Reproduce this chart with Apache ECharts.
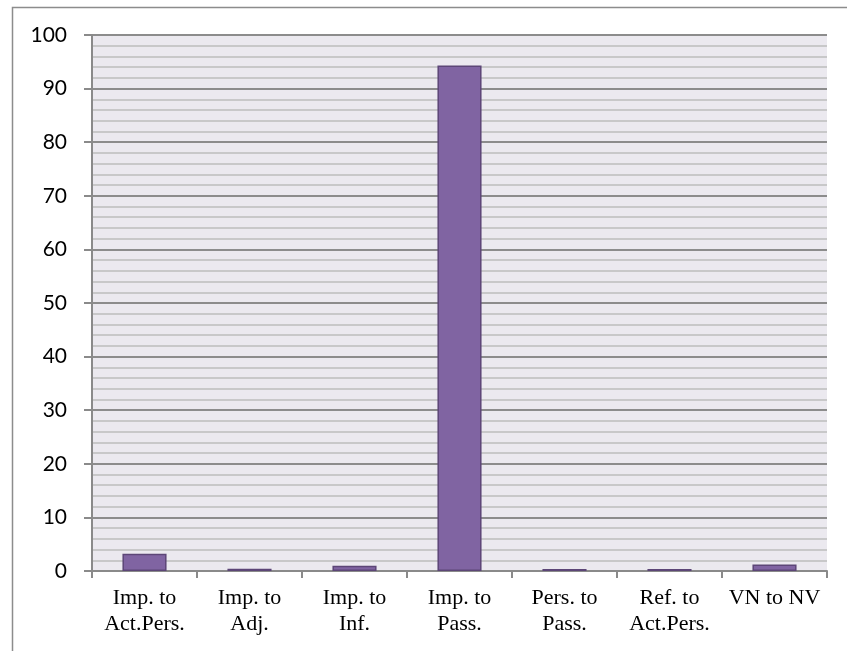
<!DOCTYPE html>
<html>
<head>
<meta charset="utf-8">
<style>
  html, body { margin: 0; padding: 0; background: #ffffff; }
  #chart { width: 847px; height: 651px; }
</style>
<script src="https://cdn.jsdelivr.net/npm/echarts@6/dist/echarts.min.js"></script>
</head>
<body>
<div id="chart"></div>
<script>
// Transformation categories (two-line labels)
const categories = [
  'Imp. to\nAct.Pers.',
  'Imp. to\nAdj.',
  'Imp. to\nInf.',
  'Imp. to\nPass.',
  'Pers. to\nPass.',
  'Ref. to\nAct.Pers.',
  'VN to NV'
];

// Percentage for each category
const values = [3.2, 0.4, 1.0, 94.3, 0.35, 0.35, 1.2];

// Y axis range and step
const yMin = 0;
const yMax = 100;
const yStep = 10;

const chart = echarts.init(document.getElementById('chart'), null, { renderer: 'canvas' });

chart.setOption({
  animation: false,
  backgroundColor: '#ffffff',
  graphic: [{
    type: 'rect',
    left: 10,
    top: 5,
    shape: { x: 0, y: 0, width: 900, height: 700 },
    style: { fill: 'none', stroke: '#8c8c8c', lineWidth: 1.5 },
    silent: true
  }],
  grid: {
    left: 92,
    right: 20,
    top: 35,
    bottom: 80,
    show: true,
    backgroundColor: '#ebe9ef',
    borderWidth: 0
  },
  xAxis: {
    type: 'category',
    data: categories,
    boundaryGap: true,
    axisLine: { show: true, lineStyle: { color: '#8a8a8a', width: 2 } },
    axisTick: { show: true, length: 7, alignWithLabel: false, lineStyle: { color: '#8a8a8a', width: 2 } },
    axisLabel: {
      interval: 0,
      margin: 14,
      color: '#000000',
      fontFamily: 'Liberation Serif',
      fontSize: 22,
      lineHeight: 26
    },
    splitLine: { show: false }
  },
  yAxis: {
    type: 'value',
    min: yMin,
    max: yMax,
    interval: yStep,
    axisLine: { show: true, lineStyle: { color: '#8a8a8a', width: 2 } },
    axisTick: { show: true, inside: false, length: 8, lineStyle: { color: '#8a8a8a', width: 2 } },
    axisLabel: {
      margin: 25,
      color: '#000000',
      fontFamily: 'Lato',
      fontSize: 21
    },
    splitLine: { show: true, lineStyle: { color: '#8c8c8c', width: 2 } },
    minorTick: { show: false, splitNumber: 5 },
    minorSplitLine: { show: true, lineStyle: { color: '#bdbdbd', width: 1.5 } }
  },
  series: [{
    type: 'bar',
    data: values,
    barWidth: '42%',
    itemStyle: {
      color: '#8064a2',
      borderColor: '#5c4677',
      borderWidth: 1.5
    }
  }]
});
</script>
</body>
</html>
